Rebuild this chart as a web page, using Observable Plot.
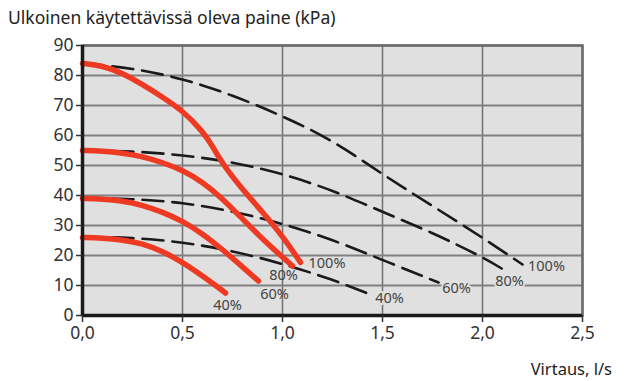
<!DOCTYPE html>
<html>
<head>
<meta charset="utf-8">
<script src="https://cdn.jsdelivr.net/npm/d3@7"></script>
<script src="https://cdn.jsdelivr.net/npm/@observablehq/plot@0.6"></script>
<style>
  body { margin: 0; background: #fff; font-family: "Noto Sans", sans-serif; }
  #wrap { position: relative; width: 624px; height: 381px; }
  #title { position: absolute; left: 8px; top: 5px; font-size: 17.5px; color: #222; white-space: nowrap; }
  #xlabel { position: absolute; right: 12px; top: 357px; font-size: 16.5px; color: #222; white-space: nowrap; }
  #chart { position: absolute; left: 0; top: 0; }
</style>
</head>
<body>
<div id="wrap">
  <div id="chart"></div>
  <div id="title">Ulkoinen käytettävissä oleva paine (kPa)</div>
  <div id="xlabel">Virtaus, l/s</div>
</div>
<script>
// Tick values
const xTicks = [0, 0.5, 1.0, 1.5, 2.0, 2.5];
const yTicks = [0, 10, 20, 30, 40, 50, 60, 70, 80, 90];

// Red (solid) curves: [flow l/s, pressure kPa]
const red100 = [[0,84],[0.1,83.3],[0.2,80.8],[0.3,77],[0.4,72.8],[0.5,68.3],[0.6,61.5],[0.65,56.5],[0.7,50.5],[0.8,42],[0.9,34.5],[1.0,26.5],[1.09,17.7]];
const red80  = [[0,55],[0.1,54.8],[0.2,54.2],[0.3,53],[0.4,51],[0.5,48.5],[0.6,44.5],[0.7,39],[0.8,32.2],[0.9,25.5],[1.0,19.5],[1.05,16.5]];
const red60  = [[0,39],[0.1,38.8],[0.2,38.2],[0.3,36.8],[0.4,34.5],[0.5,31.5],[0.6,27.3],[0.7,22],[0.8,16.2],[0.88,11.5]];
const red40  = [[0,26],[0.1,25.8],[0.2,25.2],[0.3,24],[0.4,21.4],[0.5,17.8],[0.6,13.2],[0.7,8.3],[0.715,7.5]];

// Black (dashed) curves
const dash100 = [[0,84],[0.25,82.5],[0.5,79],[0.75,73.5],[1.0,66.5],[1.25,58.5],[1.5,47],[1.75,36.5],[2.0,26],[2.2,17]];
const dash80  = [[0,55],[0.25,54.8],[0.5,53.5],[0.75,51.2],[1.0,47.3],[1.25,41.8],[1.5,34.5],[1.75,27.6],[2.0,19.5],[2.1,15.5]];
const dash60  = [[0,39.2],[0.25,38.9],[0.5,37.7],[0.75,34.8],[1.0,30.7],[1.25,25.3],[1.5,18.5],[1.78,11]];
const dash40  = [[0,26.2],[0.25,26],[0.5,24.5],[0.75,21.6],[1.0,17.3],[1.25,12],[1.42,7.5]];

// Curve labels
const redLabelStart = [{x:1.13, y:17.3, t:"100%"}];
const redLabels  = [{x:1.005, y:13.3, t:"80%"},{x:0.96, y:7.0, t:"60%"},{x:0.725, y:3.3, t:"40%"}];
const dashLabels = [{x:2.32, y:16.5, t:"100%"},{x:2.135, y:11.3, t:"80%"},{x:1.87, y:9, t:"60%"},{x:1.535, y:5.6, t:"40%"}];

const fmt = d => d.toFixed(1).replace(".", ",");
const redColor = "#ee3a22";
const dashStyle = {x: d => d[0], y: d => d[1], stroke: "#1a1a1a", strokeWidth: 2.6, strokeDasharray: "21,9", curve: "basis"};
const redStyle = {x: d => d[0], y: d => d[1], stroke: redColor, strokeWidth: 5.5, strokeLinecap: "round", curve: "basis"};
const labelStyle = {x: "x", y: "y", text: "t", fontSize: 14.5, fill: "#444"};

const chart = Plot.plot({
  width: 624,
  height: 381,
  marginLeft: 82,
  marginRight: 42,
  marginTop: 45,
  marginBottom: 66,
  style: {fontFamily: "Noto Sans, sans-serif", background: "transparent"},
  x: {domain: [0, 2.5]},
  y: {domain: [0, 90]},
  marks: [
    Plot.frame({fill: "#e0e0e0", stroke: null}),
    Plot.gridX(xTicks, {stroke: "#707070", strokeOpacity: 1, strokeWidth: 1.5}),
    Plot.gridY(yTicks, {stroke: "#808080", strokeOpacity: 1, strokeWidth: 2}),
    Plot.frame({stroke: "#6a6a6a", strokeWidth: 2.5}),
    Plot.line(dash100, dashStyle),
    Plot.line(dash80, dashStyle),
    Plot.line(dash60, dashStyle),
    Plot.line(dash40, dashStyle),
    Plot.line(red100, redStyle),
    Plot.line(red80, redStyle),
    Plot.line(red60, redStyle),
    Plot.line(red40, redStyle),
    Plot.text(dashLabels, {...labelStyle, stroke: "#e0e0e0", strokeWidth: 4}),
    Plot.text(redLabels, labelStyle),
    Plot.text(redLabelStart, {...labelStyle, textAnchor: "start"}),
    Plot.ruleX([0], {stroke: "#1a1a1a", strokeWidth: 3.5}),
    Plot.ruleY([0], {stroke: "#1a1a1a", strokeWidth: 3.5}),
    Plot.axisY(yTicks, {tickSize: 6, tickPadding: 3, fontSize: 17.5, color: "#333", label: null, strokeWidth: 1.5}),
    Plot.axisX(xTicks, {tickSize: 7, tickPadding: 4, fontSize: 17.5, color: "#333", label: null, tickFormat: fmt, strokeWidth: 1.5})
  ]
});
document.getElementById("chart").appendChild(chart);
</script>
</body>
</html>
